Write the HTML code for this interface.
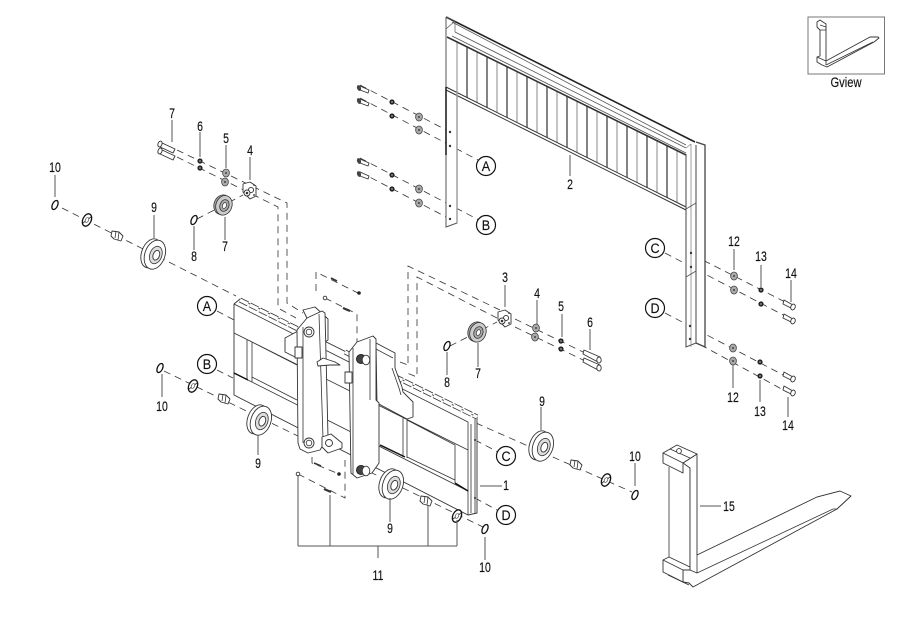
<!DOCTYPE html>
<html><head><meta charset="utf-8"><style>
html,body{margin:0;padding:0;background:#fff}
svg{display:block}
text{font-family:"Liberation Sans",sans-serif;font-size:14px;fill:#111;stroke:#111;stroke-width:.15;text-anchor:middle}
.d{fill:none;stroke:#333;stroke-width:.8;stroke-dasharray:7 5}
.l{fill:none;stroke:#555;stroke-width:1}
.s{fill:#fff;stroke:#333;stroke-width:.9;stroke-linejoin:round}
.n{fill:none;stroke:#333;stroke-width:.8}
.c{fill:#fff;stroke:#111;stroke-width:1.2}
.r{fill:#fff;stroke:#111;stroke-width:1.3}
</style></head><body>
<svg width="900" height="636" viewBox="0 0 900 636" xmlns="http://www.w3.org/2000/svg">
<defs>
<g id="bolt"><path class="s" d="M-17-8L-2-1 -4 3 -19-4Z"/><ellipse class="s" cx="-17" cy="-6" rx="2" ry="3" transform="rotate(20 -17 -6)"/></g>
<g id="bf"><path class="s" d="M-9-4L0 0-1 3-9 0Z"/><ellipse cx="-10" cy="-2" rx="2" ry="3" fill="#444" transform="rotate(-20 -10 -2)"/></g>
<g id="br"><path class="s" d="M-9-4L0 1-2 4-10 0Z"/><ellipse class="s" cx="0" cy="3" rx="2.2" ry="3" transform="rotate(20 0 3)"/></g>
<g id="wa"><ellipse cx="0" cy="0" rx="3.4" ry="4" fill="#aaa" stroke="#444" stroke-width=".8"/><circle r="1" fill="#444"/></g>
<g id="nu"><circle r="2.6" fill="#222"/><circle r=".9" fill="#aaa"/></g>
<g id="ro"><g transform="rotate(20)"><ellipse class="s" cx="-2" cy="0" rx="9.500" ry="15"/><ellipse class="s" cx="2" cy="0" rx="10" ry="15"/><ellipse cx="3" cy="0" rx="6" ry="9" fill="#ddd" stroke="#333" stroke-width=".8"/><ellipse class="s" cx="3.500" cy="0" rx="3.2" ry="5"/></g></g>
<g id="ros"><g transform="rotate(20)"><ellipse cx="-1" cy="0" rx="8" ry="10" fill="#aaa" stroke="#333" stroke-width=".8"/><ellipse cx="1" cy="0" rx="8" ry="10" fill="#ccc" stroke="#333" stroke-width=".8"/><ellipse cx="1.500" cy="0" rx="4.500" ry="6" fill="#aaa" stroke="#333" stroke-width=".8"/><ellipse cx="1.500" cy="0" rx="2" ry="3" fill="#fff" stroke="#333" stroke-width=".7"/></g></g>
<g id="ri"><ellipse class="r" cx="0" cy="0" rx="2.6" ry="4.800" transform="rotate(25)"/></g>
<g id="wr"><ellipse class="r" cx="0" cy="0" rx="4.200" ry="6.500" transform="rotate(25)"/><path class="n" d="M-4 3L4-3"/><ellipse cx="0" cy="0" rx="1.600" ry="2.600" fill="#fff" stroke="#333" stroke-width=".6" transform="rotate(25)"/></g>
<g id="bu"><path class="s" d="M-5-4L2-3 6 1 4 6-3 4-6 1Z"/><path class="n" d="M-1-4L-2 3M2-3L1 5"/></g>
<g id="mt"><path class="s" d="M-7-6L0-8 6-4 6 6 0 9-4 5-7 2Z"/><circle cx="1" cy="0" r="2.6" class="s"/><circle cx="-3" cy="3" r="3" class="s"/><circle cx="-3" cy="3" r="1.300" fill="#333"/><circle cx="4" cy="-5" r="1" fill="#555"/><circle cx="4" cy="5" r="1" fill="#555"/></g>
</defs>
<rect width="900" height="636" fill="#fff"/>

<path class="d" d="M360 85L450 132M360 98L478 160M360 158L479 220M360 172L450 219"/>
<path class="d" d="M693 255L787 303M665 253L787 317M665 313L787 377M690 339L787 392"/>
<path class="d" d="M177 150L287 203V303L303 313M177 157L278 207V308L296 318M197 219L243 195M62 208L236 296M217 311L236 321M217 370L233 378M164 371L300 437"/>
<path class="d" d="M500 310L408 266V363M400 362L408 365M497 318L417 277V377L407 373M515 319L583 352M515 327L583 360M450 346L497 322M476 423L632 492"/>
<path class="d" d="M316 291V272L360 294M325 298L357 314V345M312 457V463L339 474M298 474L345 498V460M370 472L483 527M475 440L498 452M475 498L497 510"/>

<path d="M446 17L695 142 705 145 705 347 696 343 686 347 686 207 457 92V223L446 227V17Z" fill="#fff"/>
<g stroke="#888" stroke-width="1" fill="none">
<path d="M457 42V92.500M477 52V102.500M497 62V112.500M517 72V122.500M537 81V132.500M557 91V142.500M577 101V152.500M597 111V162.500M617 121V172.500M637 131V182.500M657 141V192.500M677 151V202.500"/>
</g>
<g stroke="#777" stroke-width="1.800" fill="none">
<path d="M467 47V97.500M487 57V107.500M507 67V117.500M527 76V127.500M547 86V137.500M567 96V147.500M587 106V157.500M607 116V167.500M627 126V177.500M647 136V187.500M667 146V197.500"/>
</g>
<path d="M446 17L695 142" fill="none" stroke="#222" stroke-width="1.600"/>
<path d="M452 22L686 145M455 32L686 148M452 36L686 153" fill="none" stroke="#555" stroke-width=".8"/>
<path d="M447 37L686 155" fill="none" stroke="#333" stroke-width="1.600"/>
<path d="M446 87L686 207" fill="none" stroke="#333" stroke-width="1"/>
<path d="M446 90L686 210" fill="none" stroke="#333" stroke-width="1"/>
<path d="M446 17V227L457 223V92" fill="none" stroke="#555" stroke-width="1"/>
<path d="M446 87V155" fill="none" stroke="#222" stroke-width="1.600"/>
<path d="M457 92V223" fill="none" stroke="#999" stroke-width="1.400"/>
<path d="M446 17L455 21 446 29M455 21V32" fill="none" stroke="#555" stroke-width=".7"/>
<path d="M686 154V347L696 343V145" fill="none" stroke="#555" stroke-width="1.100"/>
<path d="M696 142L705 145V347L696 343" fill="none" stroke="#444" stroke-width="1.300"/>
<path d="M691 144L686 148M691 144V347" fill="none" stroke="#888" stroke-width=".8"/>
<path d="M686 209L696 203M686 277L696 271" fill="none" stroke="#555" stroke-width=".8"/>
<g fill="#333"><circle cx="450" cy="132" r="1.200"/><circle cx="450" cy="146" r="1.200"/><circle cx="450" cy="206" r="1.200"/><circle cx="450" cy="219" r="1.200"/><circle cx="691" cy="253" r="1.200"/><circle cx="691" cy="267" r="1.200"/><circle cx="690" cy="326" r="1.200"/><circle cx="690" cy="339" r="1.200"/></g>

<use href="#bf" x="369" y="90"/><use href="#bf" x="369" y="103"/><use href="#bf" x="369" y="163"/><use href="#bf" x="369" y="176"/>
<use href="#nu" x="392" y="102"/><use href="#nu" x="392" y="116"/><use href="#nu" x="392" y="175"/><use href="#nu" x="392" y="189"/>
<use href="#wa" x="419" y="117"/><use href="#wa" x="419" y="130"/><use href="#wa" x="419" y="189"/><use href="#wa" x="419" y="203"/>
<use href="#wa" x="734" y="276"/><use href="#wa" x="734" y="290"/><use href="#wa" x="733" y="348"/><use href="#wa" x="733" y="361"/>
<use href="#nu" x="761" y="290"/><use href="#nu" x="761" y="304"/><use href="#nu" x="760" y="362"/><use href="#nu" x="760" y="376"/>
<use href="#br" x="793" y="304"/><use href="#br" x="793" y="318"/><use href="#br" x="793" y="376"/><use href="#br" x="793" y="390"/>

<use href="#bolt" x="177" y="150"/><use href="#bolt" x="177" y="157"/>
<use href="#nu" x="200" y="161"/><use href="#nu" x="200" y="168"/>
<use href="#wa" x="226" y="173"/><use href="#wa" x="225" y="182"/>
<use href="#mt" x="250" y="190"/>
<use href="#ros" x="223" y="205"/>
<use href="#ri" x="194" y="220"/>
<use href="#ri" x="55" y="205"/>
<use href="#wr" x="87" y="220"/>
<use href="#bu" x="117" y="235"/>
<use href="#ro" x="153" y="254"/>

<use href="#ri" x="160" y="368"/>
<use href="#wr" x="193" y="386"/>
<use href="#bu" x="224" y="398"/>

<path class="s" d="M234 304L240 299 477 417V513L468 515 234 395Z"/>
<path d="M240 300L300 330M345 352L477 417" stroke="#333" stroke-width="5" stroke-dasharray="9 2" fill="none"/>
<path d="M240 300L300 330M345 352L477 417" stroke="#fff" stroke-width="3.400" stroke-dasharray="9 2" fill="none"/>
<path class="n" d="M234 304L468 422V515M234 333L468 450M234 373L468 491M247 340V380M252 342V382M252 342L297 365M252 377L297 400M403 418V457M407 420V458M407 420L455 445V483M407 457L455 480M379 403L403 415"/>
<path d="M234 373L248 380M380 445L405 457M455 483L468 491" stroke="#111" stroke-width="1.500" fill="none"/>
<path d="M471 424V513M475 419V513" stroke="#888" stroke-width="1.400" fill="none"/>
<circle cx="475" cy="440" r="1" fill="#333"/><circle cx="475" cy="498" r="1" fill="#333"/>

<use href="#ro" x="259" y="420"/>

<path class="s" d="M285 338L298 331 298 350 297 358 285 352Z"/>
<path class="s" d="M303 310L315 307 328 319 328 340 320 345Z"/>
<path class="s" d="M297 330L307 318 322 311 325 313 328 437 320 450 308 453 300 449 298 443Z"/>
<path class="n" d="M303 327V443M319 314L323 438"/>
<rect class="s" x="295" y="347" width="7" height="11"/>
<circle class="s" cx="309" cy="332" r="5"/><circle class="n" cx="309" cy="332" r="2.800"/>
<circle class="s" cx="309" cy="443" r="5"/><circle class="n" cx="309" cy="443" r="2.800"/>
<path class="s" d="M317 362L323 358 335 362 340 365 330 365 318 366Z"/>
<path class="s" d="M322 437L331 434 342 443V448L328 453 322 447Z"/>
<circle class="s" cx="329" cy="443" r="3.500"/>

<path class="s" d="M376 343L395 353 395 368 402 387 403 392 413 402V417L407 419 377 403Z"/>
<path class="n" d="M376 349L393 358M392 368L399 388 401 395"/>
<path class="s" d="M349 352L357 342 373 336 376 339 376 400 379 403V463L372 473 357 478 351 473Z"/>
<path class="n" d="M353 348V474M370 339V400"/>
<rect class="s" x="345" y="372" width="7" height="11"/>
<circle cx="361" cy="359" r="4.500" fill="#444" stroke="#222"/><ellipse class="s" cx="366" cy="360" rx="3.800" ry="4.800"/>
<circle cx="361" cy="470" r="4.500" fill="#444" stroke="#222"/><ellipse class="s" cx="366" cy="471" rx="3.800" ry="4.800"/>

<circle class="s" cx="325" cy="298" r="1.800"/>
<path d="M343 308L350 311" stroke="#333" stroke-width="2.200"/>
<path d="M331 278L337 281" stroke="#333" stroke-width="1.600"/>
<circle cx="359" cy="293" r="1.800" fill="#222"/>
<path d="M314 463L321 466" stroke="#333" stroke-width="1.600"/>
<circle cx="339" cy="474" r="1.800" fill="#222"/>
<circle class="s" cx="298" cy="474" r="1.800"/>
<path d="M324 489L331 492" stroke="#333" stroke-width="2.200"/>

<use href="#ro" x="391" y="484"/>
<use href="#bu" x="426" y="500"/>
<use href="#wr" x="457" y="516"/>
<use href="#ri" x="485" y="529"/>

<use href="#ro" x="541" y="446"/>
<use href="#bu" x="576" y="464"/>
<use href="#wr" x="606" y="480"/>
<use href="#ri" x="635" y="495"/>
<use href="#ri" x="447" y="346"/>
<use href="#ros" x="477" y="332"/>
<use href="#mt" x="505" y="318"/>
<use href="#wa" x="536" y="328"/><use href="#wa" x="535" y="337"/>
<use href="#nu" x="561" y="341"/><use href="#nu" x="561" y="349"/>
<path class="s" d="M584 350L600 357 598 362 583 354Z"/><ellipse class="s" cx="599" cy="360" rx="2.200" ry="3"/>
<path class="s" d="M584 358L600 365 598 370 583 362Z"/><ellipse class="s" cx="599" cy="368" rx="2.200" ry="3"/>

<path class="n" d="M669 467V557M690 468V570"/>
<path class="s" d="M697 454V555L817 497 840 491 851 496 837 509 693 587 689 583 683 582V570L690 570V468L683 463Z"/>
<path class="n" d="M697 555V573L833 509 837 509M697 573L690 570M837 509L851 496M817 497L840 491"/>
<path class="s" d="M663 453L677 445 697 454 683 463V473L663 463Z"/>
<path class="n" d="M683 463L663 453M670 449L690 458"/>
<circle class="s" cx="679" cy="451" r="2.400"/>
<path class="s" d="M663 560L669 557 690 567V570L683 570V582L663 572Z"/>
<path class="n" d="M663 560L683 570M668 575L689 585"/>

<rect x="808" y="17" width="76.500" height="57" fill="#fff" stroke="#777" stroke-width="1"/>
<path class="s" d="M817 22L820 20 826 24V61L870 37 878 37 879 38 874 42 827 67 822 65 817 62V57L820 56V30L817 27Z"/>
<path class="n" d="M820 25L826 27V30H820M826 61V65M826 65L873 42M817 57L826 61"/>

<path class="l" d="M172 120V142M200 132V157M226 145V168M250 157V180M55 175V197M154 215V238M225 217V240M194 226V250M162 374V397M258 435V455M505 285V307M537 300V324M562 314V337M590 329V350M478 343V367M447 352V375M541 407V430M635 463V486M390 498V522M485 537V560M480 486H502M570 155V176M734 249V270M761 265V287M791 280V302M733 365V388M760 380V402M788 397V417M700 506H721"/>
<path class="l" d="M298 475V546M330 495V546M428 505V546M457 520V546M298 546H457M378 546V558"/>

<circle class="c" cx="486" cy="166" r="9.500"/><circle class="c" cx="486" cy="225" r="9.500"/>
<circle class="c" cx="655" cy="248" r="9.500"/><circle class="c" cx="655" cy="308" r="9.500"/>
<circle class="c" cx="207" cy="306" r="9.500"/><circle class="c" cx="207" cy="364" r="9.500"/>
<circle class="c" cx="506" cy="456" r="9.500"/><circle class="c" cx="506" cy="515" r="9.500"/>
<text transform="matrix(.9 0 0 1 486 171)">A</text><text transform="matrix(.9 0 0 1 486 230)">B</text>
<text transform="matrix(.9 0 0 1 655 253)">C</text><text transform="matrix(.9 0 0 1 655 313)">D</text>
<text transform="matrix(.9 0 0 1 207 311)">A</text><text transform="matrix(.9 0 0 1 207 369)">B</text>
<text transform="matrix(.9 0 0 1 506 461)">C</text><text transform="matrix(.9 0 0 1 506 520)">D</text>

<g>
<text transform="matrix(.75 0 0 1 172 118)">7</text>
<text transform="matrix(.75 0 0 1 200 131)">6</text>
<text transform="matrix(.75 0 0 1 226 143)">5</text>
<text transform="matrix(.75 0 0 1 250 155)">4</text>
<text transform="matrix(.75 0 0 1 55 172)">10</text>
<text transform="matrix(.75 0 0 1 154 212)">9</text>
<text transform="matrix(.75 0 0 1 225 251)">7</text>
<text transform="matrix(.75 0 0 1 194 261)">8</text>
<text transform="matrix(.75 0 0 1 162 411)">10</text>
<text transform="matrix(.75 0 0 1 258 468)">9</text>
<text transform="matrix(.75 0 0 1 505 282)">3</text>
<text transform="matrix(.75 0 0 1 537 298)">4</text>
<text transform="matrix(.75 0 0 1 561 311)">5</text>
<text transform="matrix(.75 0 0 1 590 327)">6</text>
<text transform="matrix(.75 0 0 1 478 378)">7</text>
<text transform="matrix(.75 0 0 1 447 387)">8</text>
<text transform="matrix(.75 0 0 1 542 406)">9</text>
<text transform="matrix(.75 0 0 1 635 461)">10</text>
<text transform="matrix(.75 0 0 1 390 533)">9</text>
<text transform="matrix(.75 0 0 1 485 572)">10</text>
<text transform="matrix(.75 0 0 1 378 580)">11</text>
<text transform="matrix(.75 0 0 1 506 490)">1</text>
<text transform="matrix(.75 0 0 1 570 189)">2</text>
<text transform="matrix(.75 0 0 1 734 246)">12</text>
<text transform="matrix(.75 0 0 1 761 261)">13</text>
<text transform="matrix(.75 0 0 1 791 278)">14</text>
<text transform="matrix(.75 0 0 1 733 402)">12</text>
<text transform="matrix(.75 0 0 1 760 416)">13</text>
<text transform="matrix(.75 0 0 1 788 430)">14</text>
<text transform="matrix(.75 0 0 1 729 511)">15</text>
<text transform="matrix(.8 0 0 1 846 87)">Gview</text>
</g>
</svg>
</body></html>
